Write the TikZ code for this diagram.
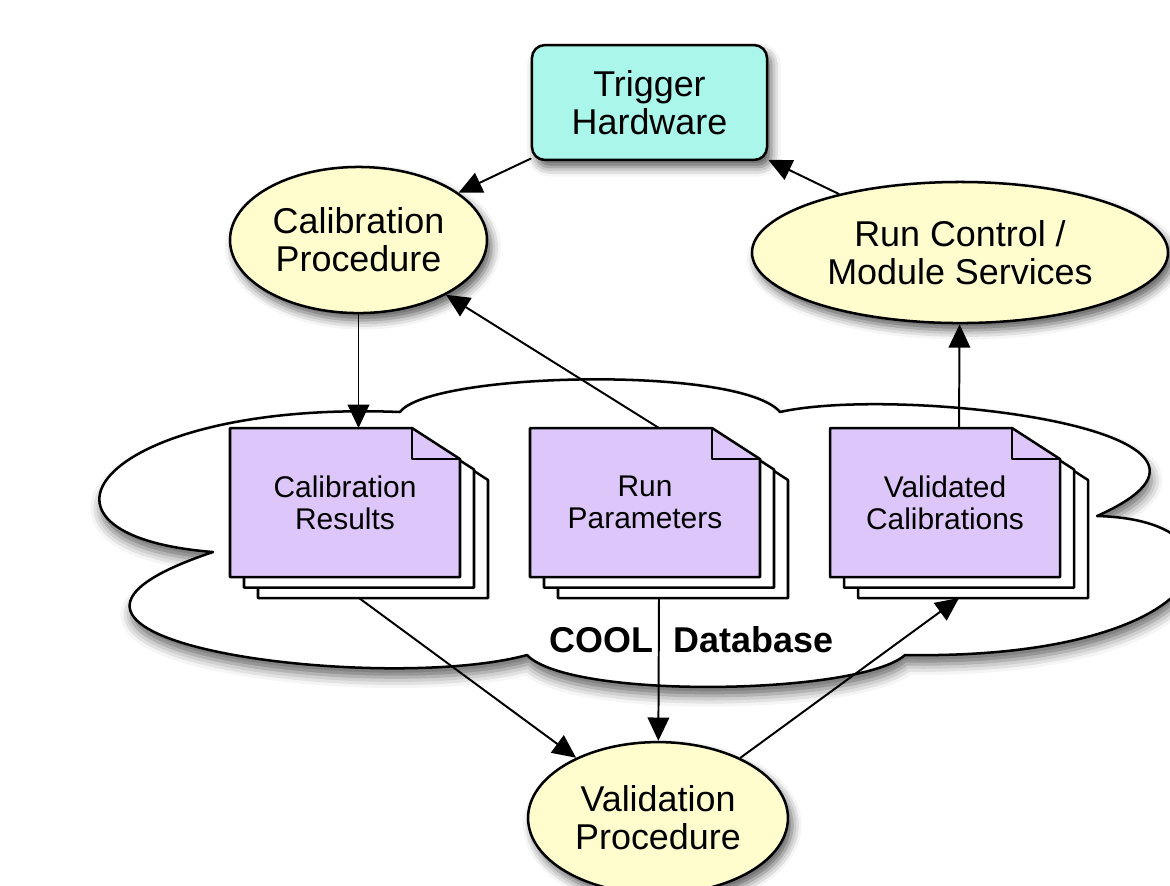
\documentclass[tikz,border=0pt]{standalone}
\usepackage{fontspec}
\setmainfont{Liberation Sans}
\usetikzlibrary{shapes.geometric,arrows.meta,shadows.blur}
\definecolor{procfill}{RGB}{255,253,206}
\definecolor{hwfill}{RGB}{170,246,234}
\definecolor{docfill}{RGB}{221,198,250}

\begin{document}
\begin{tikzpicture}[x=0.2786pt, y=-0.2786pt, line cap=round, line join=round,
	dropshade/.style={blur shadow={shadow xshift=1.2pt, shadow yshift=-2pt, shadow blur radius=2.6pt, shadow opacity=65}},
	proc/.style={ellipse, draw, line width=0.7pt, fill=procfill, inner sep=0pt, align=center,
		font=\fontsize{10}{10.6}\selectfont, dropshade},
	hw/.style={rectangle, rounded corners=3.6pt, draw, line width=0.7pt, fill=hwfill, align=center,
		minimum width=65.5pt, minimum height=32pt, font=\fontsize{10}{10.6}\selectfont, dropshade},
	page/.style={draw, line width=0.7pt},
	doctext/.style={minimum width=64.1pt, minimum height=41.5pt, inner sep=0pt, align=center,
		font=\fontsize{8.33}{8.9}\selectfont},
	arr/.style={-{Triangle[length=6.5pt, width=6pt, fill=black]}, line width=0.55pt, draw=black, fill opacity=1, opacity=1}]
			\useasboundingbox (0, 0) rectangle (1170, 885);
			\clip (0, 0) rectangle (1170, 885);
			
			\path[draw, line width=0.7pt, fill=white,
			blur shadow={shadow xshift=0.5pt, shadow yshift=-2.5pt, shadow blur radius=3pt, shadow opacity=60}]
			(400, 412) .. controls (430, 372) and (740, 365) ..
			(780, 412) .. controls (900, 385) and (1290, 430) ..
			(1097, 516) .. controls (1260, 520) and (1220, 660) ..
			(905, 655) .. controls (860, 695) and (570, 700) ..
			(527, 655) .. controls (380, 695) and (-50, 640) ..
			(213, 552) .. controls (0, 535) and (100, 400) ..
			(400, 412) -- cycle;
			
			\def\docstack#1#2#3#4{%
				\foreach \d in {2,1}
				\path[page, fill=white] (#2+14*\d, #3+10.5*\d) -- ++(182, 0) -- ++(48, 31) -- ++(0, 118) -- ++(-230, 0) -- cycle;
				\path[page, fill=docfill] (#2, #3) -- ++(182, 0) -- ++(48, 31) -- ++(0, 118) -- ++(-230, 0) -- cycle;
				\draw[line width=0.7pt] (#2+182, #3) -- ++(0, 31) -- ++(48, 0);
				\node[doctext] (#1) at (#2+115, #3+74.5) {#4};
				\coordinate (#1-t) at (#2+129, #3);
				\coordinate (#1-b) at (#2+129, #3+170);}
			
			\docstack{calres}{230}{428}{Calibration\\Results}
			\docstack{runpar}{530}{428}{Run\\Parameters}
			\docstack{valcal}{830}{428}{Validated\\Calibrations}
			
			\node[font=\fontsize{10}{12}\selectfont\bfseries, anchor=base] (cool) at (691.5, 652) {COOL\ \ Database};
			
			\node[hw] (trig) at (649.5, 102.5) {Trigger\\Hardware};
			\node[proc, minimum width=71.6pt, minimum height=40.7pt] (calproc) at (358.5, 240) {Calibration\\Procedure};
			\node[proc, minimum width=115.9pt, minimum height=39.3pt] (runctl) at (960, 252.5) {Run Control /\\Module Services};
			\node[proc, minimum width=72.4pt, minimum height=42.3pt] (valproc) at (658, 818) {Validation\\Procedure};
			
			\draw[arr] (trig) -- (calproc);
			\draw[arr] (runctl) -- (trig);
			\draw[arr] (calproc) -- (calproc |- calres-t);
			\draw[arr] (runpar-t) -- (calproc);
			\draw[arr] (valcal-t) -- (runctl);
			\draw[arr] (calres-b) -- (valproc);
			\draw[arr] (runpar-b) -- (valproc);
			\draw[arr] (valproc) -- (valcal-b);
		\end{tikzpicture}
\end{document}
